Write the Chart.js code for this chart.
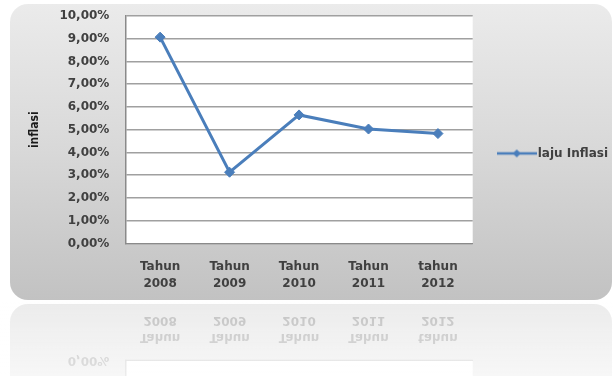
<!DOCTYPE html>
<html>
<head>
<meta charset="utf-8">
<script src="https://cdn.jsdelivr.net/npm/chart.js@4/dist/chart.umd.min.js"></script>
<style>
  html, body { margin: 0; padding: 0; background: #ffffff; }
  #wrap { position: relative; width: 613px; height: 376px; }
</style>
</head>
<body>
<div id="wrap"><canvas id="c" width="613" height="376"></canvas></div>
<script>
// Laju inflasi per tahun
const categories = [
  ['Tahun', '2008'],
  ['Tahun', '2009'],
  ['Tahun', '2010'],
  ['Tahun', '2011'],
  ['tahun', '2012']
];
const lajuInflasi = [9.07, 3.13, 5.65, 5.03, 4.83];
const yTickLabels = ['0,00%', '1,00%', '2,00%', '3,00%', '4,00%', '5,00%',
                     '6,00%', '7,00%', '8,00%', '9,00%', '10,00%'];
const seriesName = 'laju Inflasi';
const axisTitle = 'inflasi';

const LINE_BLUE = '#4a7ebb';
const TEXT_GREY = '#404040';

// legend marker: a short line with a diamond in the middle
const legendMark = document.createElement('canvas');
legendMark.width = 40; legendMark.height = 10;
(function () {
  const g = legendMark.getContext('2d');
  g.strokeStyle = LINE_BLUE; g.lineWidth = 2.5;
  g.beginPath(); g.moveTo(0, 5); g.lineTo(40, 5); g.stroke();
  g.fillStyle = LINE_BLUE;
  g.beginPath(); g.moveTo(20, 1); g.lineTo(24, 5); g.lineTo(20, 9); g.lineTo(16, 5); g.closePath(); g.fill();
})();

const PANEL = { x: 10, y: 4, w: 602, h: 296, r: 18 };
const MIRROR_Y = 302;

// grey rounded panel and white plot area behind everything
const panelPlugin = {
  id: 'panel',
  beforeDraw(chart) {
    const { ctx, chartArea } = chart;
    ctx.save();
    const grad = ctx.createLinearGradient(0, PANEL.y, 0, PANEL.y + PANEL.h);
    grad.addColorStop(0, '#ebebeb');
    grad.addColorStop(0.5, '#d8d8d8');
    grad.addColorStop(1, '#c2c2c2');
    ctx.fillStyle = grad;
    ctx.beginPath();
    ctx.roundRect(PANEL.x, PANEL.y, PANEL.w, PANEL.h, PANEL.r);
    ctx.fill();
    ctx.fillStyle = '#ffffff';
    ctx.fillRect(chartArea.left, chartArea.top,
                 chartArea.right - chartArea.left, chartArea.bottom - chartArea.top);
    ctx.restore();
  },
  // faded mirror image of the panel underneath it
  afterDraw(chart) {
    const { ctx, canvas } = chart;
    const W = chart.width, H = chart.height;
    const k = canvas.width / W;
    ctx.save();
    ctx.beginPath();
    ctx.rect(0, MIRROR_Y, W, H - MIRROR_Y);
    ctx.clip();
    ctx.globalAlpha = 0.32;
    ctx.translate(0, 2 * MIRROR_Y);
    ctx.scale(1, -1);
    ctx.drawImage(canvas, 0, 0, canvas.width, (PANEL.y + PANEL.h) * k,
                  0, 0, W, PANEL.y + PANEL.h);
    ctx.restore();
    ctx.save();
    const fade = ctx.createLinearGradient(0, MIRROR_Y, 0, H);
    fade.addColorStop(0, 'rgba(255,255,255,0)');
    fade.addColorStop(1, 'rgba(255,255,255,0.5)');
    ctx.fillStyle = fade;
    ctx.fillRect(0, MIRROR_Y, W, H - MIRROR_Y);
    ctx.restore();
  }
};

Chart.defaults.font.family = "'DejaVu Sans', Verdana, sans-serif";
Chart.defaults.font.size = 12;
Chart.defaults.font.weight = 'bold';
Chart.defaults.color = TEXT_GREY;

new Chart(document.getElementById('c'), {
  type: 'line',
  data: {
    labels: categories,
    datasets: [{
      label: seriesName,
      data: lajuInflasi,
      borderColor: LINE_BLUE,
      backgroundColor: LINE_BLUE,
      borderWidth: 3,
      tension: 0,
      pointStyle: 'rectRot',
      pointRadius: 5,
      pointBackgroundColor: LINE_BLUE,
      pointBorderColor: LINE_BLUE,
      pointBorderWidth: 1,
      clip: false
    }]
  },
  options: {
    responsive: false,
    animation: false,
    devicePixelRatio: 1,
    layout: { padding: { left: 20, top: 16, right: -5, bottom: 69 } },
    plugins: {
      tooltip: { enabled: false },
      legend: {
        position: 'right',
        align: 'center',
        fullSize: false,
        // empty title block only pushes the entry down to mid-panel
        title: { display: true, text: ' ', padding: { top: 33, bottom: 0 },
                 font: { size: 12, lineHeight: 1.2 } },
        labels: {
          usePointStyle: true,
          pointStyle: legendMark,
          pointStyleWidth: 30,
          padding: 29,
          color: TEXT_GREY,
          font: { size: 12, weight: 'bold' }
        }
      }
    },
    scales: {
      x: {
        offset: true,
        grid: { display: false, drawTicks: false },
        border: { display: true, color: '#8a8a8a', width: 1 },
        ticks: {
          padding: 15,
          maxRotation: 0,
          color: TEXT_GREY,
          font: { size: 12, weight: 'bold', lineHeight: 1.4 }
        }
      },
      y: {
        min: 0,
        max: 10,
        afterFit: (s) => { s.paddingTop = 0; },
        grid: { color: '#a0a0a0', lineWidth: 1.5, drawTicks: false },
        border: { display: true, color: '#8a8a8a', width: 1.5 },
        ticks: {
          stepSize: 1,
          padding: 16,
          color: TEXT_GREY,
          font: { size: 12, weight: 'bold' },
          callback: (v, i) => yTickLabels[i]
        },
        title: {
          display: true,
          text: axisTitle,
          color: '#1a1a1a',
          padding: { top: 8, bottom: 1 },
          font: { family: "'Liberation Sans Narrow', 'DejaVu Sans Condensed', sans-serif",
                  size: 12, weight: 'bold', lineHeight: 1.2 }
        }
      }
    }
  },
  plugins: [panelPlugin]
});
</script>
</body>
</html>
